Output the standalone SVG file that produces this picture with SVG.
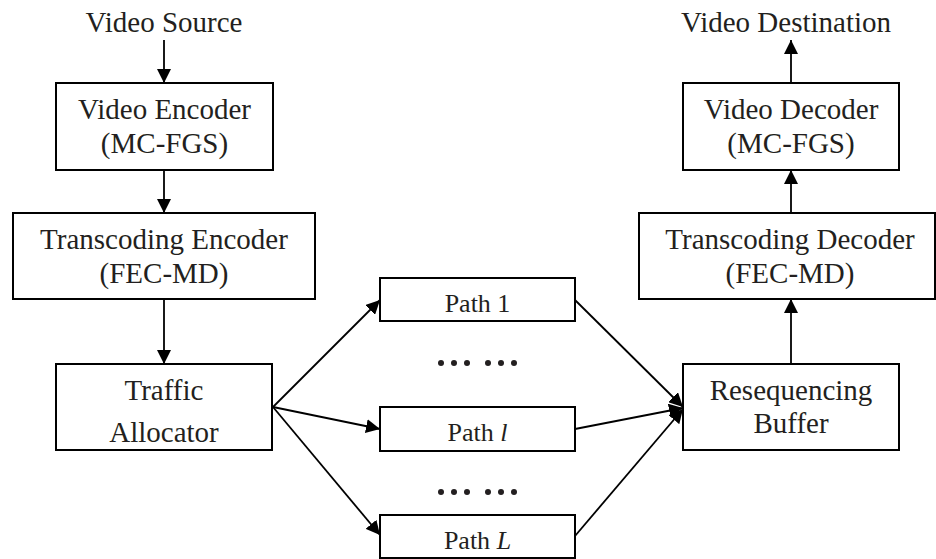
<svg xmlns="http://www.w3.org/2000/svg" width="936" height="559" viewBox="0 0 936 559">
  <style>
    .box { fill: #ffffff; stroke: #000000; stroke-width: 2; }
    .lbl { font-family: "Liberation Serif", "Times New Roman", serif; font-size: 29px; fill: #231f20; text-anchor: middle; }
    .path-lbl { font-family: "Liberation Serif", "Times New Roman", serif; font-size: 26px; fill: #231f20; text-anchor: middle; }
    .edge { stroke: #000000; stroke-width: 1.8; fill: none; marker-end: url(#arrow); }
    .dot { fill: #231f20; }
  </style>
  <defs>
    <marker id="arrow" markerWidth="14" markerHeight="14" viewBox="0 0 14 14" refX="14" refY="7" orient="auto" markerUnits="userSpaceOnUse">
      <path d="M0,0 L14,7 L0,14 Z" fill="#000000"/>
    </marker>
  </defs>

  <!-- free-standing labels -->
  <text class="lbl" x="164" y="32">Video Source</text>
  <text class="lbl" x="786" y="32">Video Destination</text>

  <!-- sender side -->
  <g id="video-encoder">
    <rect class="box" x="56" y="83" width="217" height="87"/>
    <text class="lbl" x="164.5" y="119">Video Encoder</text>
    <text class="lbl" x="164.5" y="153">(MC-FGS)</text>
  </g>
  <g id="transcoding-encoder">
    <rect class="box" x="13" y="213" width="302" height="86"/>
    <text class="lbl" x="164" y="249">Transcoding Encoder</text>
    <text class="lbl" x="164" y="283">(FEC-MD)</text>
  </g>
  <g id="traffic-allocator">
    <rect class="box" x="56" y="364" width="216" height="86"/>
    <text class="lbl" x="164" y="400">Traffic</text>
    <text class="lbl" x="164" y="442">Allocator</text>
  </g>

  <!-- network paths -->
  <g id="path-1">
    <rect class="box" x="380" y="278" width="195" height="43"/>
    <text class="path-lbl" x="477.5" y="312">Path 1</text>
  </g>
  <g id="path-l">
    <rect class="box" x="380" y="407" width="195" height="44"/>
    <text class="path-lbl" x="477.5" y="441">Path <tspan font-style="italic">l</tspan></text>
  </g>
  <g id="path-L">
    <rect class="box" x="380" y="515" width="195" height="43"/>
    <text class="path-lbl" x="477.5" y="549">Path <tspan font-style="italic">L</tspan></text>
  </g>

  <!-- ellipses between paths -->
  <g id="ellipsis-upper">
    <circle class="dot" cx="441" cy="363" r="3"/>
    <circle class="dot" cx="454" cy="363" r="3"/>
    <circle class="dot" cx="467" cy="363" r="3"/>
    <circle class="dot" cx="488" cy="363" r="3"/>
    <circle class="dot" cx="501" cy="363" r="3"/>
    <circle class="dot" cx="514" cy="363" r="3"/>
  </g>
  <g id="ellipsis-lower">
    <circle class="dot" cx="441" cy="492" r="3"/>
    <circle class="dot" cx="454" cy="492" r="3"/>
    <circle class="dot" cx="467" cy="492" r="3"/>
    <circle class="dot" cx="488" cy="492" r="3"/>
    <circle class="dot" cx="501" cy="492" r="3"/>
    <circle class="dot" cx="514" cy="492" r="3"/>
  </g>

  <!-- receiver side -->
  <g id="resequencing-buffer">
    <rect class="box" x="683" y="364" width="216" height="86"/>
    <text class="lbl" x="791" y="400">Resequencing</text>
    <text class="lbl" x="791" y="433">Buffer</text>
  </g>
  <g id="transcoding-decoder">
    <rect class="box" x="639" y="213" width="296" height="86"/>
    <text class="lbl" x="790" y="249">Transcoding Decoder</text>
    <text class="lbl" x="790" y="283">(FEC-MD)</text>
  </g>
  <g id="video-decoder">
    <rect class="box" x="683" y="83" width="216" height="87"/>
    <text class="lbl" x="791" y="119">Video Decoder</text>
    <text class="lbl" x="791" y="153">(MC-FGS)</text>
  </g>

  <!-- connectors -->
  <g id="connectors">
    <line class="edge" x1="164" y1="40" x2="164" y2="83"/>
    <line class="edge" x1="164" y1="170" x2="164" y2="213"/>
    <line class="edge" x1="164" y1="299" x2="164" y2="364"/>

    <line class="edge" x1="273" y1="407" x2="380" y2="300"/>
    <line class="edge" x1="273" y1="407" x2="380" y2="429"/>
    <line class="edge" x1="273" y1="407" x2="380" y2="535"/>

    <line class="edge" x1="575" y1="300" x2="683" y2="407"/>
    <line class="edge" x1="575" y1="429" x2="683" y2="408"/>
    <line class="edge" x1="575" y1="536" x2="683" y2="409"/>

    <line class="edge" x1="791" y1="364" x2="791" y2="299"/>
    <line class="edge" x1="791" y1="213" x2="791" y2="170"/>
    <line class="edge" x1="791" y1="83" x2="791" y2="40"/>
  </g>
</svg>
